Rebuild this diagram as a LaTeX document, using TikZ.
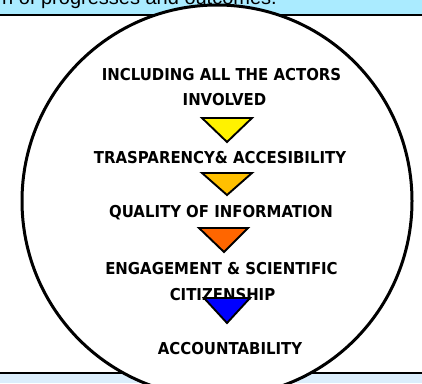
\documentclass[tikz,border=0pt]{standalone}
\usepackage{fontspec}
\setmainfont{DejaVu Sans}[FakeStretch=0.91]
\newfontfamily\headfont{Liberation Sans}
\usetikzlibrary{positioning}
\definecolor{bandtop}{RGB}{170,235,255}
\definecolor{bandbot}{RGB}{220,238,252}
\definecolor{amber}{RGB}{255,192,0}
\definecolor{deeporange}{RGB}{255,102,0}

\begin{document}
\begin{tikzpicture}[x=1pt, y=-1pt,
		steplabel/.style={font=\fontsize{16.4}{18}\selectfont\bfseries, inner sep=0pt, anchor=base},
		stagearrow/.style={draw=black, line width=1.9pt, line join=miter} ]
		\useasboundingbox (0,0) rectangle (422,383);
		\clip (0,0) rectangle (422,383);
		\fill[white] (0,0) rectangle (422,383);
		% bands above and below
		\fill[bandtop] (0,0) rectangle (422,15);
		\draw[line width=2pt] (0,15) -- (422,15);
		\fill[bandbot] (0,373) rectangle (422,383);
		\draw[line width=1.8pt] (0,373) -- (422,373);
		\node[font=\headfont\fontsize{20}{22}\selectfont, anchor=base east, inner sep=0pt] (header) at (277,4.5) {n of progresses and outcomes.};
		\draw[line width=3pt, fill=white] (217,201) ellipse [x radius=195, y radius=196];
		% steps
		\node[steplabel] (actors) at (221.5,80) {INCLUDING ALL THE ACTORS};
		\node[steplabel] (involved) at (224.5,105) {INVOLVED};
		\node[steplabel] (transparency) at (220,163) {TRASPARENCY\& ACCESIBILITY};
		\node[steplabel] (quality) at (221,217) {QUALITY OF INFORMATION};
		\node[steplabel] (engagement) at (221.5,274) {ENGAGEMENT \& SCIENTIFIC};
		\node[steplabel] (citizenship) at (222.5,300) {CITIZENSHIP};
		\node[steplabel] (accountability) at (230,354) {ACCOUNTABILITY};
		\draw[stagearrow, fill=yellow] (202,118) -- (252,118) -- (227,142) -- cycle;
		\draw[stagearrow, fill=amber] (202,173) -- (252,173) -- (227,195) -- cycle;
		\draw[stagearrow, fill=deeporange] (199,228) -- (248,228) -- (224,252) -- cycle;
		\draw[stagearrow, fill=blue] (204,298) -- (250,298) -- (227,323) -- cycle;
	\end{tikzpicture}
\end{document}
